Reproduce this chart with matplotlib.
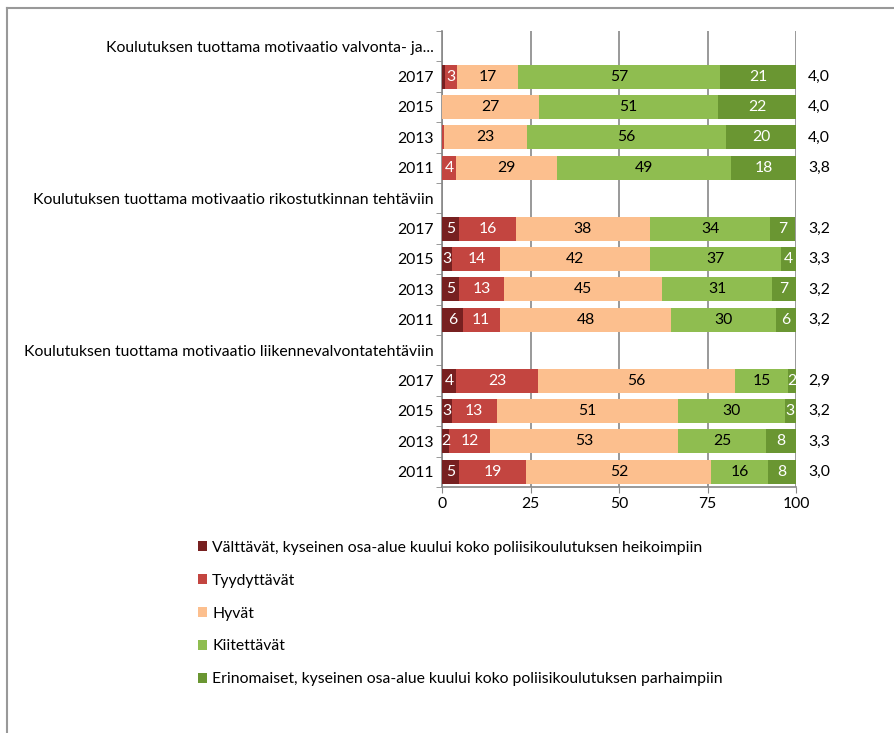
import matplotlib
matplotlib.use("Agg")
import matplotlib.pyplot as plt
from matplotlib.lines import Line2D
from matplotlib.patches import Patch
import numpy as np

plt.rcParams['font.family'] = ['Lato', 'DejaVu Sans']

groups = [
    "Koulutuksen tuottama motivaatio valvonta- ja...",
    "Koulutuksen tuottama motivaatio rikostutkinnan tehtäviin",
    "Koulutuksen tuottama motivaatio liikennevalvontatehtäviin",
]
years = ["2017", "2015", "2013", "2011"]
series = [
    "Välttävät, kyseinen osa-alue kuului koko poliisikoulutuksen heikoimpiin",
    "Tyydyttävät",
    "Hyvät",
    "Kiitettävät",
    "Erinomaiset, kyseinen osa-alue kuului koko poliisikoulutuksen parhaimpiin",
]
colors = ["#772020", "#C34540", "#FCBF8E", "#8FBD50", "#6A9632"]
label_colors = ["white", "white", "black", "black", "white"]

# rows in order: group1 (2017..2011), group2, group3
valttavat    = [0.8, 0.0, 0.0, 0.0,   4.9, 2.9, 4.9, 5.8,   4.0, 2.8, 1.9, 4.8]
tyydyttavat  = [3.4, 0.0, 0.7, 4.0,   16.0, 13.6, 12.6, 10.6,   23.0, 12.6, 11.8, 19.0]
hyvat        = [17.3, 27.4, 23.3, 28.6,   37.8, 42.3, 44.6, 48.3,   55.8, 51.4, 52.9, 52.3]
kiitettavat  = [57.1, 50.7, 56.2, 49.0,   34.0, 37.0, 31.2, 29.7,   15.0, 30.0, 25.0, 16.0]
erinomaiset  = [21.4, 21.9, 19.8, 18.4,   7.0, 4.2, 6.7, 5.6,   2.2, 3.2, 8.4, 7.9]
keskiarvo    = ["4,0", "4,0", "4,0", "3,8",   "3,2", "3,3", "3,2", "3,2",   "2,9", "3,2", "3,3", "3,0"]

data = [valttavat, tyydyttavat, hyvat, kiitettavat, erinomaiset]

fig = plt.figure(figsize=(8.94, 7.33), dpi=100)
W, H = 894, 733
ax = fig.add_axes([442 / W, 1 - 487 / H, (796 - 442) / W, (487 - 31) / H])

ypos = []
ylabels = []
bar_y = []
row = 0
for g in groups:
    ypos.append(row)
    ylabels.append(g)
    row += 1
    for yr in years:
        ypos.append(row)
        ylabels.append(yr)
        bar_y.append(row)
        row += 1
nrows = row
bar_y = np.array(bar_y)

left = np.zeros(len(bar_y))
fs = 11.3
for k, vals in enumerate(data):
    vals = np.array(vals)
    ax.barh(bar_y, vals, left=left, height=0.79, color=colors[k], zorder=3)
    for i, v in enumerate(vals):
        r = int(round(v))
        if r >= 2:
            ax.text(left[i] + v / 2, bar_y[i], str(r), ha='center', va='center',
                    color=label_colors[k], fontsize=fs, zorder=4)
    left += vals

for i, m in enumerate(keskiarvo):
    ax.text(103.4, bar_y[i], m, ha='left', va='center', fontsize=fs, clip_on=False)

ax.set_xlim(0, 100)
ax.set_ylim(nrows - 0.5, -0.5)
ax.set_yticks(ypos)
ax.set_yticklabels(ylabels, fontsize=fs)
ax.set_yticks(np.arange(-0.5, nrows, 1), minor=True)
ax.tick_params(axis='y', which='major', length=0, pad=6)
ax.tick_params(axis='y', which='minor', length=4, color='#888888')
ax.set_xticks([0, 25, 50, 75, 100])
ax.tick_params(axis='x', labelsize=fs, length=4, color='#888888', pad=3)
ax.xaxis.grid(True, color='#888888', linewidth=1.2, zorder=0)
ax.set_axisbelow(True)
for s in ['top', 'right']:
    ax.spines[s].set_visible(False)
for s in ['left', 'bottom']:
    ax.spines[s].set_color('#888888')
    ax.spines[s].set_linewidth(1.2)

handles = [Patch(facecolor=c, edgecolor='none') for c in colors]
fig.legend(handles, series, loc='upper left', bbox_to_anchor=(198 / W, 1 - 541 / H),
           frameon=False, fontsize=fs, handlelength=0.6, handleheight=0.6,
           handletextpad=0.3, labelspacing=1.2, borderaxespad=0, borderpad=0)

fig.add_artist(Line2D([6.5 / W, 6.5 / W], [0, 1 - 8 / H], transform=fig.transFigure,
                      color='#999999', linewidth=1.5))
fig.add_artist(Line2D([6.5 / W, 1], [1 - 8 / H, 1 - 8 / H], transform=fig.transFigure,
                      color='#999999', linewidth=1.5))

fig.savefig("out.png", dpi=100)
